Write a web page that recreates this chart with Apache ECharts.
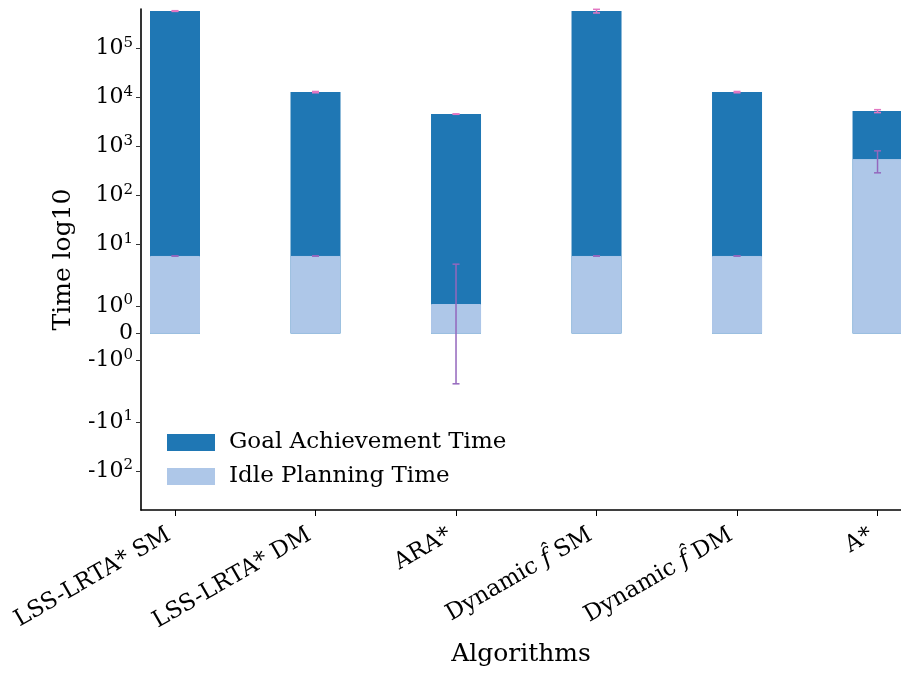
<!DOCTYPE html>
<html>
<head>
<meta charset="utf-8">
<script src="https://cdn.jsdelivr.net/npm/echarts@6/dist/echarts.min.js"></script>
<style>
  html, body { margin: 0; padding: 0; background: #fff; }
  #chart { width: 901px; height: 673px; }
</style>
</head>
<body>
<div id="chart"></div>
<script>
// Algorithms compared
const categories = ['LSS-LRTA* SM', 'LSS-LRTA* DM', 'ARA*', 'Dynamic f SM', 'Dynamic f DM', 'A*'];
// Mean goal achievement time and its spread
const goalMean = [586000, 13000, 4630, 586000, 13000, 5330];
const goalStd  = [10000, 400, 50, 50000, 400, 370];
// Mean idle planning time and its spread
const idleMean = [5.9, 5.9, 1.08, 5.9, 5.9, 558];
const idleStd  = [0.05, 0.05, 2.93, 0.05, 0.05, 265];
// Y ticks (raw values) and their labels: [mantissa, exponent]
const yTicks = [-100, -10, -1, 0, 1, 10, 100, 1000, 10000, 100000];
const yTickLabels = [['-10', '2'], ['-10', '1'], ['-10', '0'], ['0', ''], ['10', '0'], ['10', '1'],
                     ['10', '2'], ['10', '3'], ['10', '4'], ['10', '5']];
// Raw y-range shown
const yMinRaw = -620;
const yMaxRaw = 645000;

// Symmetric log transform (linear within ±2, base-10 log outside)
const LINTHRESH = 2;
const LINSCALE = 1 / (1 - 1 / 10);
function symlog(v) {
  const a = Math.abs(v);
  if (a <= LINTHRESH) return v * LINSCALE;
  return Math.sign(v) * LINTHRESH * (LINSCALE + Math.log10(a / LINTHRESH));
}

const FONT = 'DejaVu Serif';
const yTickPos = yTicks.map(symlog);

function yLabel(v) {
  let best = 0;
  for (let i = 1; i < yTickPos.length; i++) {
    if (Math.abs(yTickPos[i] - v) < Math.abs(yTickPos[best] - v)) best = i;
  }
  const [m, e] = yTickLabels[best];
  return e ? '{b|' + m + '}{s|' + e + '}' : '{b|' + m + '}';
}

function xLabel(v) {
  const i = Math.round(v);
  const name = categories[i] || '';
  if (name.startsWith('Dynamic f')) {
    return '{n|Dynamic }{i|f\u0302}{n|' + name.slice('Dynamic f'.length) + '}';
  }
  return '{n|' + name + '}';
}

const goalData = goalMean.map((v, i) => [i, symlog(v)]);
const idleData = idleMean.map((v, i) => [i, symlog(v)]);
const goalErr = goalMean.map((v, i) => [i, symlog(v - goalStd[i]), symlog(v + goalStd[i])]);
const idleErr = idleMean.map((v, i) => [i, symlog(v - idleStd[i]), symlog(v + idleStd[i])]);

function errorRenderer(color) {
  return function (params, api) {
    const x = api.value(0);
    const top = api.coord([x, api.value(2)]);
    const bot = api.coord([x, api.value(1)]);
    const cap = 3.5;
    const style = { stroke: color, lineWidth: 1.5 };
    return {
      type: 'group',
      children: [
        { type: 'line', shape: { x1: top[0], y1: top[1], x2: bot[0], y2: bot[1] }, style },
        { type: 'line', shape: { x1: top[0] - cap, y1: top[1], x2: top[0] + cap, y2: top[1] }, style },
        { type: 'line', shape: { x1: bot[0] - cap, y1: bot[1], x2: bot[0] + cap, y2: bot[1] }, style }
      ]
    };
  };
}

const chart = echarts.init(document.getElementById('chart'), null, { renderer: 'canvas' });
chart.setOption({
  animation: false,
  backgroundColor: '#fff',
  textStyle: { fontFamily: FONT },
  grid: { left: 141, right: 0, top: 9, bottom: 163, containLabel: false, outerBoundsMode: 'none' },
  legend: {
    data: ['Goal Achievement Time', 'Idle Planning Time'],
    orient: 'vertical',
    left: 162,
    top: 426,
    itemWidth: 48,
    itemHeight: 17,
    itemGap: 11,
    icon: 'rect',
    itemStyle: { borderWidth: 0 },
    textStyle: { fontFamily: FONT, fontSize: 23, color: '#000', padding: [0, 0, 0, 9] }
  },
  xAxis: {
    type: 'value',
    min: -0.242,
    max: 5.167,
    name: 'Algorithms',
    nameLocation: 'middle',
    nameGap: 132,
    nameTextStyle: { fontFamily: FONT, fontSize: 25, color: '#000' },
    axisLine: { onZero: false, lineStyle: { color: '#000', width: 1.6 } },
    axisTick: { customValues: [0, 1, 2, 3, 4, 5], length: 6, lineStyle: { color: '#000' } },
    axisLabel: {
      customValues: [0, 1, 2, 3, 4, 5],
      rotate: 30,
      margin: 20,
      padding: [0, 7, 0, 0],
      formatter: xLabel,
      rich: {
        n: { fontFamily: FONT, fontSize: 23, color: '#000' },
        i: { fontFamily: FONT, fontSize: 23, fontStyle: 'italic', color: '#000' }
      }
    },
    splitLine: { show: false }
  },
  yAxis: {
    type: 'value',
    min: symlog(yMinRaw),
    max: symlog(yMaxRaw),
    name: 'Time log10',
    nameLocation: 'middle',
    nameGap: 65,
    nameRotate: 90,
    nameTextStyle: { fontFamily: FONT, fontSize: 25, color: '#000' },
    axisLine: { onZero: false, lineStyle: { color: '#000', width: 1.6 } },
    axisTick: { customValues: yTickPos, length: 5, lineStyle: { color: '#333' } },
    axisLabel: {
      customValues: yTickPos,
      margin: 8,
      formatter: yLabel,
      rich: {
        b: { fontFamily: FONT, fontSize: 22, color: '#000', lineHeight: 27 },
        s: { fontFamily: FONT, fontSize: 15, color: '#000', verticalAlign: 'top', lineHeight: 16 }
      }
    },
    splitLine: { show: false }
  },
  series: [
    {
      name: 'Goal Achievement Time',
      type: 'bar',
      data: goalData,
      barWidth: 50,
      barGap: '-100%',
      itemStyle: { color: '#1f77b4' }
    },
    {
      name: 'Idle Planning Time',
      type: 'bar',
      data: idleData,
      barWidth: 50,
      barGap: '-100%',
      itemStyle: { color: '#aec7e8', borderColor: '#aec7e8', borderWidth: 1 }
    },
    {
      name: 'goal-err',
      type: 'custom',
      data: goalErr,
      renderItem: errorRenderer('#e377c2'),
      encode: { x: 0, y: [1, 2] },
      clip: false,
      z: 5
    },
    {
      name: 'idle-err',
      type: 'custom',
      data: idleErr,
      renderItem: errorRenderer('#9467bd'),
      encode: { x: 0, y: [1, 2] },
      clip: false,
      z: 5
    }
  ]
});
</script>
</body>
</html>
